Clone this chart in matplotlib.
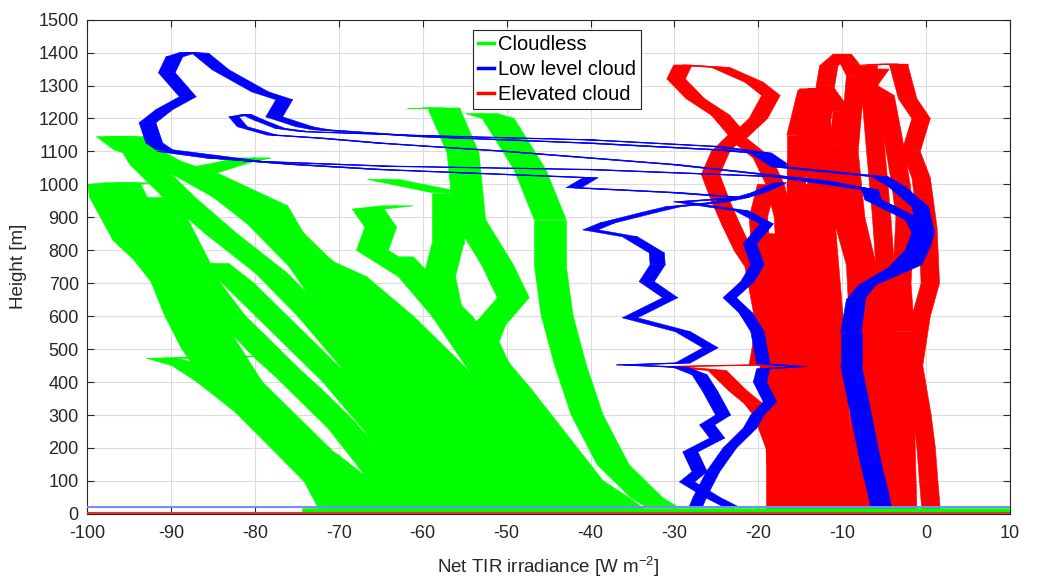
import numpy as np
import matplotlib.pyplot as plt
from matplotlib.collections import PolyCollection
from matplotlib.lines import Line2D

plt.rcParams['font.family'] = ['Liberation Sans', 'DejaVu Sans']
plt.rcParams['axes.unicode_minus'] = False

# -------------------------
# DATA  (net TIR irradiance [W m-2] vs height [m], one list per profile)
# -------------------------
cloudless_x = [
    [-70.5, -72.2, -76.2, -80.1, -84.1, -86.9, -88.9, -90.5, -92.5, -95, -96.5, -97.8, -98, -96],
    [-66, -69, -73, -77, -81, -84, -86.5, -88, -91, -93.5, -95.5, -94],
    [-64, -68, -72, -77, -81, -85, -88, -91, -80],
    [-50, -54, -58, -62, -66, -70, -76, -83, -90, -96],
    [-55, -60, -64, -68, -73, -78, -84, -89, -93, -95],
    [-45, -48, -52, -57, -63, -68.6, -72.5, -75.7, -78, -86, -94.9, -97],
    [-60, -63, -67, -71, -75, -79, -83, -86, -88, -90, -91],
    [-52, -56, -61, -66, -70, -74, -79, -84, -87, -82, -80, -86],
    [-40, -43, -47, -52, -57, -61, -66, -65, -66.5, -63],
    [-42, -45, -49, -53, -57, -58, -57, -57, -64.7],
    [-35.5, -37.3, -43.3, -47.2, -50, -51.1, -52.8, -52, -49.2, -51.1, -54.4, -55.2, -57.5, -60],
    [-31.3, -33.3, -37.3, -40.4, -42.4, -44, -44.8, -44.8, -47.2, -51, -53],
    [-48, -52, -57, -60, -64, -68, -72, -75],
    [-57, -61, -66, -70, -74, -78, -82, -85],
    [-38, -41, -45, -49, -53, -56, -60, -63],
    [-62, -66, -70, -74, -78, -81],
    [-44, -47, -52, -56, -59, -62, -66],
    [-68, -71, -75, -79, -82, -85, -88],
    [-54, -57, -61, -65, -69, -72],
]
cloudless_h = [
    [15, 97, 200, 300, 400, 504, 604, 705, 770, 830, 900, 960, 1000, 1005],
    [15, 100, 200, 300, 400, 500, 600, 700, 800, 900, 1000, 1005],
    [15, 100, 180, 250, 320, 400, 450, 472, 478],
    [15, 120, 250, 400, 550, 700, 850, 960, 1060, 1145],
    [15, 150, 300, 450, 600, 730, 850, 960, 1060, 1145],
    [15, 150, 300, 450, 600, 720, 765, 835, 935, 1030, 1105, 1145],
    [15, 100, 200, 300, 400, 500, 600, 700, 800, 900, 960],
    [15, 150, 300, 450, 600, 750, 880, 980, 1030, 1070, 1080, 1050],
    [15, 150, 300, 450, 600, 720, 800, 870, 925, 935],
    [15, 150, 300, 450, 600, 720, 820, 975, 1015],
    [15, 49, 149, 249, 350, 431, 522, 574, 656, 756, 893, 1096, 1232, 1232],
    [18, 49, 149, 300, 452, 604, 756, 893, 1044, 1200, 1215],
    [15, 150, 300, 400, 500, 600, 700, 780],
    [15, 130, 280, 400, 500, 600, 700, 760],
    [15, 120, 250, 380, 500, 600, 700, 780],
    [15, 150, 280, 380, 470, 550],
    [15, 100, 220, 330, 430, 520, 620],
    [15, 90, 200, 320, 440, 560, 680],
    [15, 130, 260, 400, 520, 640],
]

low_cloud_x = [
    [-5.1, -5.5, -6.3, -7.1, -7.9, -8.7, -8.7, -8.2, -7.0, -3.5, -1.5, -0.7, -1.5, -6.3, -6.7,
     -17.4, -40, -64, -80, -90.8, -92, -92.8, -90.8, -88, -90.5, -89.6, -88, -86.5, -84.1,
     -79.4, -76.5, -77.7, -74.1, -72.2, -60, -40, -25, -20, -17.4, -5.5, -3.5, -0.7, 0,
     -0.5, -1.5, -7, -8.5, -9.2, -9.2, -8.4, -7.6, -6.8, -6.0, -5.6],
    [-3.5, -1.2, -1.0, -1.8, -4, -6.3, -7, -12, -17.4, -30, -50, -65, -72, -78, -81.5,
     -82.5, -81, -79.5, -77, -74, -60, -40, -25, -19, -17],
    [-23, -25.4, -28.5, -27, -28.1, -24.9, -26.1, -24.2, -25.7, -27, -29.3, -36, -29, -25.7,
     -29, -35.3, -30.5, -33.3, -32, -32.1, -35.3, -40, -38, -33, -30.2, -25, -22, -30, -38,
     -42, -40, -55, -65, -75, -85, -90.8],
    [-27.5, -27, -25.4, -23.4, -21, -20.1, -18.6, -19.8, -19.4, -15, -19.4, -20.1, -21.5,
     -23.4, -21.3, -20.1, -21, -19, -22, -25.4, -29.3, -22, -20, -17.4],
]
low_cloud_h = [
    [18, 67, 149, 249, 352, 452, 553, 656, 695, 747, 800, 853, 893, 953, 984,
     1023, 1045, 1055, 1070, 1105, 1126, 1187, 1227, 1266, 1339, 1387, 1400, 1398, 1348,
     1281, 1257, 1205, 1175, 1166, 1145, 1125, 1105, 1095, 1053, 1023, 993, 932, 853,
     810, 756, 695, 650, 550, 450, 350, 250, 150, 67, 18],
    [747, 800, 853, 893, 930, 955, 985, 1010, 1025, 1060, 1100, 1125, 1140, 1150, 1175,
     1205, 1212, 1195, 1170, 1160, 1148, 1135, 1115, 1095, 1060],
    [18, 49, 97, 128, 188, 230, 270, 300, 370, 422, 445, 452, 458, 504,
     553, 595, 656, 705, 756, 792, 841, 862, 883, 915, 932, 945, 960, 975, 985,
     990, 1020, 1035, 1045, 1060, 1080, 1100],
    [18, 49, 128, 200, 260, 300, 340, 400, 440, 447, 455, 553, 610,
     656, 705, 756, 820, 880, 920, 932, 947, 960, 975, 1005],
]

elevated_x = [
    [-14.5, -15, -16, -16.5, -16.8, -17, -18, -19.5, -22.5, -20, -18.5, -20.5, -24.5, -29,
     -29.8, -27.5, -24.5, -22.5, -24.5, -25.7, -24.5, -23.3, -21.8, -20.5, -19.4, -18.5, -18, -18],
    [-5.3, -6, -6.5, -7, -8.4, -9.2, -8.4, -9.2, -10, -11.6, -12, -12.4, -13.9, -15.5, -15.5,
     -15, -14.5, -13.5, -12.5],
    [0.6, 0.3, 0, -0.5, -1.5, -0.6, 0.5, 0.2, -0.6, -1.8, -0.6, -2.2, -3.3, -5, -6.9],
    [-6.9, -6.9, -4.9, -4, -3, -2.5, -2.9, -2.5, -2.5, -2.2],
    [-3.7, -4.1, -4.5, -4.9, -5.3, -6, -6.5, -6.9, -5.5],
    [-7.5, -8, -8, -8.4, -10, -10.4, -10, -12, -14, -14.5, -13, -12, -11.5, -11],
    [-13, -13.5, -14, -15, -15.5, -15.5, -14.2, -13, -12.5, -12, -11.8, -11, -10],
    [-17.5, -18, -19.5, -20.6, -22.5, -24.9, -30.4, -20, -19, -19.5, -20, -19],
    [-16, -16.5, -17, -17.5, -18, -18.5],
    [-12.5, -13, -13.5, -14, -14.5, -15],
    [-9.5, -10, -10.5, -11, -11.5, -12],
    [-15, -15.5, -16, -16, -16.5, -17],
    [-11, -11.5, -12, -12.5, -13, -13.5, -14],
]
elevated_h = [
    [10, 200, 400, 600, 800, 900, 1000, 1080, 1140, 1200, 1270, 1310, 1355, 1362,
     1320, 1260, 1210, 1150, 1100, 1030, 950, 880, 800, 750, 600, 400, 200, 10],
    [10, 300, 555, 750, 900, 1100, 1330, 1370, 1395, 1360, 1300, 1200, 1140, 1070, 900,
     750, 500, 300, 10],
    [10, 100, 200, 300, 450, 600, 700, 870, 1020, 1100, 1200, 1260, 1365, 1365, 1362],
    [1362, 1300, 1270, 1150, 1000, 900, 700, 555, 300, 10],
    [10, 300, 555, 755, 900, 1100, 1250, 1300, 1350],
    [10, 305, 555, 755, 900, 1120, 1220, 1290, 1290, 1200, 1000, 755, 500, 10],
    [10, 300, 600, 800, 1000, 1150, 1285, 1290, 1200, 1000, 800, 500, 10],
    [10, 200, 300, 335, 375, 435, 447, 452, 600, 750, 900, 1000],
    [10, 200, 400, 600, 750, 850],
    [10, 200, 400, 600, 750, 850],
    [10, 200, 400, 600, 750, 900],
    [10, 150, 350, 550, 700, 800],
    [10, 150, 350, 550, 700, 850, 1000],
]

# near-ground segments at the start of the flights
ground_h = {'blue': 22, 'green': 9, 'red': 3}
ground_x0 = {'blue': -100, 'green': -74, 'red': -100}

GREEN = (0, 1, 0)
BLUE = (0, 0, 1)
RED = (1, 0, 0)


def add_profile(ax, x, h, color, half_width, zorder):
    """profile drawn as a band of constant horizontal width (sensor noise)"""
    x = np.asarray(x, float)
    h = np.asarray(h, float)
    w = half_width
    polys = [[(x[i] - w, h[i]), (x[i] + w, h[i]), (x[i + 1] + w, h[i + 1]), (x[i + 1] - w, h[i + 1])]
             for i in range(len(x) - 1)]
    ax.add_collection(PolyCollection(polys, facecolor=color, edgecolor=color,
                                     linewidth=0.4, zorder=zorder))
    ax.plot(x, h, color=color, linewidth=0.9, zorder=zorder)


fig = plt.figure(figsize=(10.37, 5.78), dpi=100)
ax = fig.add_axes([0.084, 0.111, 0.890, 0.855])

for x, h in zip(cloudless_x, cloudless_h):
    add_profile(ax, x, h, GREEN, 1.9, 2)
for x, h in zip(elevated_x, elevated_h):
    add_profile(ax, x, h, RED, 1.1, 3)
blue_w = [1.0, 0.6, 0.9, 0.8]
for x, h, w in zip(low_cloud_x, low_cloud_h, blue_w):
    add_profile(ax, x, h, BLUE, w, 4)

ax.plot([ground_x0['blue'], 10], [ground_h['blue']] * 2, color=(0.45, 0.55, 1.0), lw=1.5, zorder=5)
ax.plot([ground_x0['green'], 10], [ground_h['green']] * 2, color=GREEN, lw=4, zorder=5)
ax.plot([ground_x0['red'], 10], [ground_h['red']] * 2, color=(0.85, 0.2, 0.2), lw=1.5, zorder=5)

ax.set_xlim(-100, 10)
ax.set_ylim(0, 1500)
ax.set_xticks(np.arange(-100, 11, 10))
ax.set_yticks(np.arange(0, 1501, 100))
ax.grid(True, color='#dcdcdc', linewidth=0.8, zorder=0)
ax.set_axisbelow(True)
ax.tick_params(direction='in', top=True, right=True, length=5, width=0.8,
               labelsize=13, colors='#262626')
ax.tick_params(axis='x', pad=8)
ax.tick_params(axis='y', pad=6)
for sp in ax.spines.values():
    sp.set_color('#262626')
    sp.set_linewidth(0.8)

ax.set_xlabel(r'Net TIR irradiance [W m$^{\mathregular{-2}}$]', fontsize=13.5, color='#262626', labelpad=9)
ax.set_ylabel('Height [m]', fontsize=13.5, color='#262626', labelpad=8)

handles = [Line2D([0], [0], color=GREEN, lw=2.5),
           Line2D([0], [0], color=BLUE, lw=2.5),
           Line2D([0], [0], color=RED, lw=2.5)]
leg = ax.legend(handles, ['Cloudless', 'Low level cloud', 'Elevated cloud'],
                loc='upper left', bbox_to_anchor=(0.418, 0.98), fontsize=14.5,
                handlelength=0.8, handletextpad=0.2, borderpad=0.25, labelspacing=0.3,
                fancybox=False, framealpha=1, edgecolor='#262626', borderaxespad=0)
leg.get_frame().set_linewidth(0.8)
leg.set_zorder(10)

plt.savefig("out.png", dpi=100)
